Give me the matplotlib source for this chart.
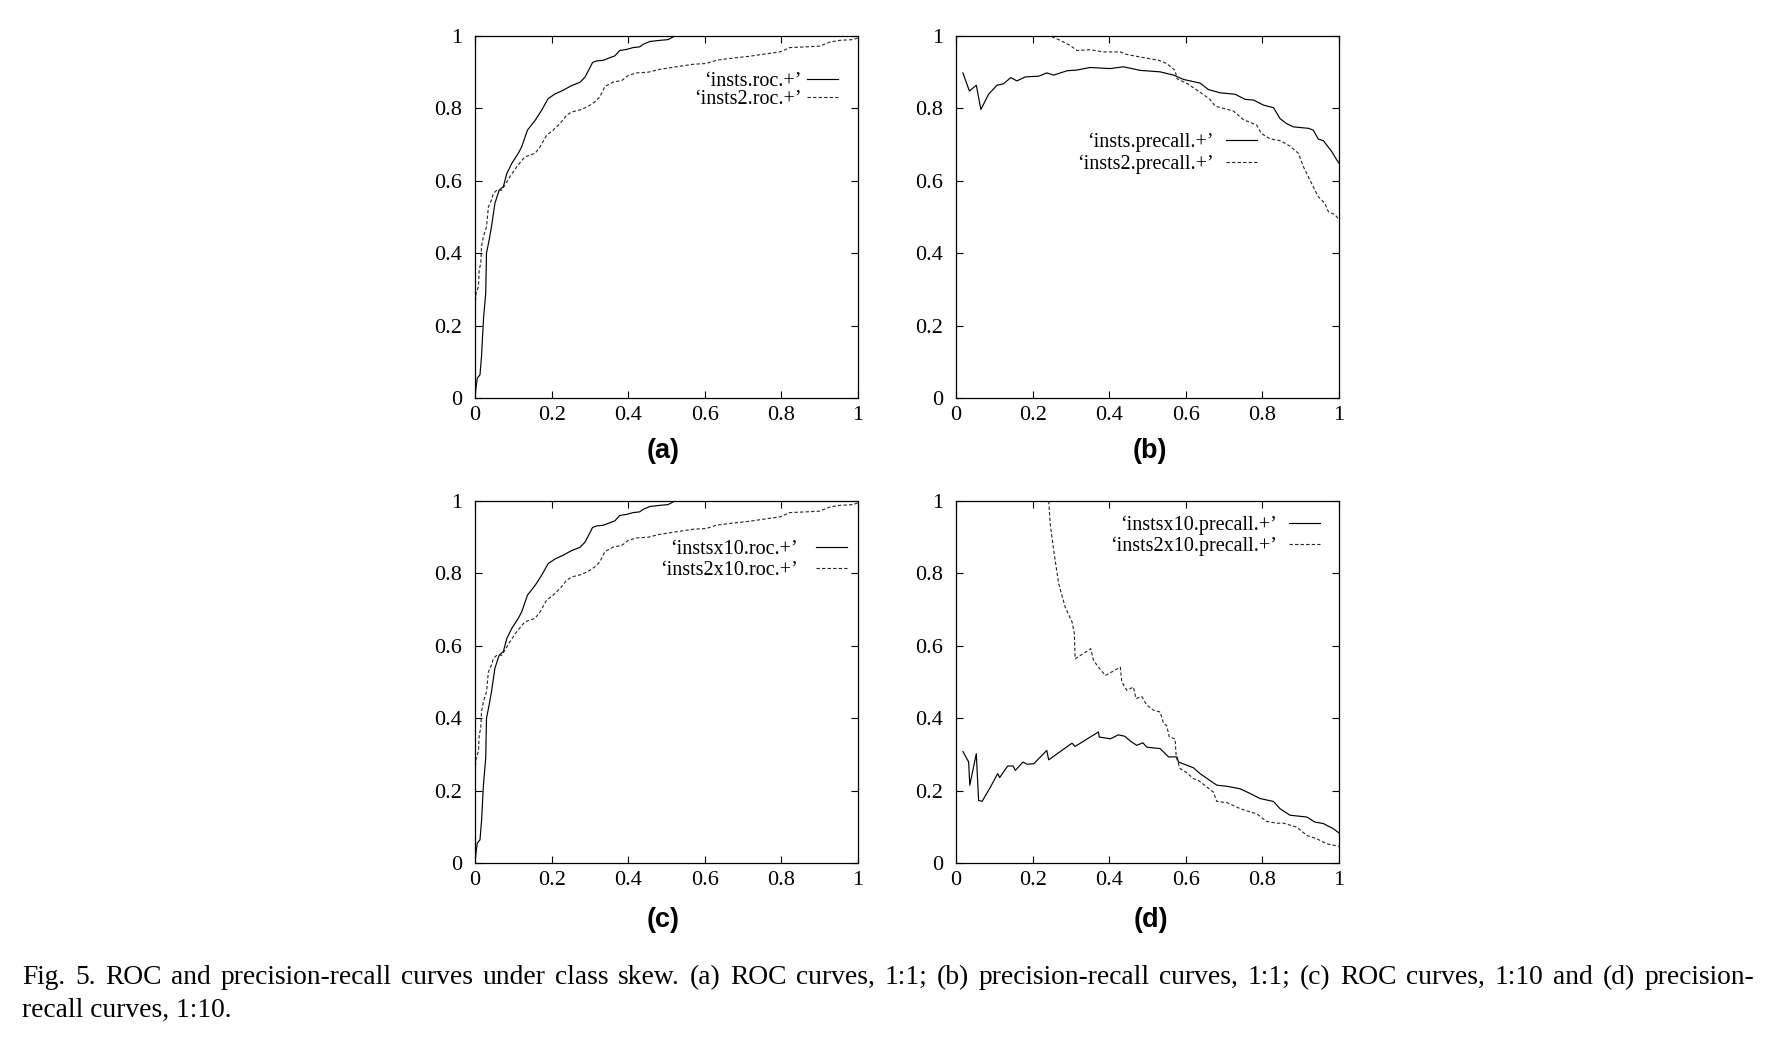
import matplotlib
matplotlib.use("Agg")
import matplotlib.pyplot as plt

# --- data ---
# (a)/(c) ROC curves (ROC is unchanged by class skew, so both panels show the same curves)
roc1_fpr = [0, 0.003, 0.006, 0.013, 0.017, 0.022, 0.028, 0.030, 0.037, 0.043, 0.052, 0.063, 0.074,
            0.083, 0.096, 0.113, 0.122, 0.137, 0.157, 0.174, 0.191, 0.209, 0.23, 0.252, 0.274, 0.287,
            0.296, 0.307, 0.317, 0.335, 0.352, 0.365, 0.378, 0.396, 0.413, 0.43, 0.439, 0.457, 0.483,
            0.504, 0.522, 1.0]
roc1_tpr = [0, 0.032, 0.055, 0.064, 0.115, 0.216, 0.29, 0.40, 0.437, 0.473, 0.538, 0.574, 0.584,
            0.62, 0.648, 0.676, 0.694, 0.74, 0.767, 0.795, 0.827, 0.84, 0.85, 0.863, 0.872, 0.886,
            0.904, 0.927, 0.931, 0.933, 0.94, 0.945, 0.96, 0.963, 0.968, 0.97, 0.977, 0.985, 0.988,
            0.99, 1.0, 1.0]
roc2_fpr = [0, 0.003, 0.009, 0.011, 0.015, 0.017, 0.022, 0.03, 0.035, 0.043, 0.048, 0.057, 0.07,
            0.078, 0.091, 0.109, 0.13, 0.157, 0.17, 0.187, 0.204, 0.222, 0.239, 0.252, 0.278, 0.296,
            0.313, 0.326, 0.339, 0.361, 0.383, 0.4, 0.422, 0.452, 0.483, 0.526, 0.57, 0.604, 0.63,
            0.665, 0.717, 0.761, 0.796, 0.822, 0.865, 0.9, 0.926, 0.952, 0.987, 1.0]
roc2_tpr = [0.253, 0.29, 0.308, 0.354, 0.372, 0.418, 0.446, 0.473, 0.528, 0.547, 0.565, 0.574, 0.574,
            0.588, 0.611, 0.639, 0.666, 0.676, 0.694, 0.726, 0.74, 0.758, 0.781, 0.79, 0.797, 0.806,
            0.818, 0.832, 0.86, 0.873, 0.877, 0.891, 0.898, 0.9, 0.908, 0.915, 0.922, 0.924, 0.933,
            0.938, 0.944, 0.951, 0.956, 0.968, 0.97, 0.972, 0.983, 0.988, 0.99, 0.995]

# (b) precision-recall, 1:1
pr1_rec = [0.018, 0.035, 0.053, 0.065, 0.085, 0.107, 0.124, 0.143, 0.159, 0.181, 0.216, 0.237, 0.255,
           0.29, 0.316, 0.35, 0.403, 0.437, 0.481, 0.533, 0.568, 0.594, 0.637, 0.659, 0.69, 0.729,
           0.755, 0.777, 0.803, 0.829, 0.846, 0.863, 0.881, 0.92, 0.933, 0.946, 0.959, 0.981, 0.994, 1.0]
pr1_prec = [0.898, 0.848, 0.864, 0.797, 0.839, 0.864, 0.868, 0.885, 0.876, 0.887, 0.889, 0.898, 0.892,
            0.904, 0.906, 0.913, 0.91, 0.915, 0.905, 0.901, 0.892, 0.88, 0.87, 0.852, 0.843, 0.839,
            0.825, 0.823, 0.809, 0.802, 0.772, 0.758, 0.749, 0.745, 0.74, 0.715, 0.711, 0.681, 0.658, 0.649]
pr2_rec = [0.018, 0.246, 0.272, 0.298, 0.316, 0.35, 0.385, 0.429, 0.446, 0.481, 0.529, 0.55, 0.572,
           0.577, 0.603, 0.637, 0.663, 0.677, 0.724, 0.75, 0.785, 0.797, 0.82, 0.846, 0.872, 0.894,
           0.907, 0.924, 0.946, 0.963, 0.972, 0.99, 1.0]
pr2_prec = [1.0, 1.0, 0.988, 0.974, 0.96, 0.962, 0.956, 0.956, 0.949, 0.942, 0.933, 0.924, 0.905,
            0.882, 0.869, 0.845, 0.825, 0.806, 0.793, 0.769, 0.754, 0.731, 0.716, 0.711, 0.696, 0.676,
            0.639, 0.602, 0.556, 0.538, 0.515, 0.506, 0.492]

# (d) precision-recall, 1:10
pr1x10_rec = [0.018, 0.033, 0.036, 0.053, 0.059, 0.068, 0.09, 0.109, 0.114, 0.135, 0.149, 0.155, 0.175,
              0.185, 0.203, 0.237, 0.242, 0.303, 0.311, 0.372, 0.374, 0.403, 0.424, 0.441, 0.455, 0.472,
              0.488, 0.498, 0.533, 0.555, 0.577, 0.581, 0.62, 0.637, 0.663, 0.681, 0.707, 0.742, 0.768,
              0.794, 0.829, 0.846, 0.872, 0.916, 0.937, 0.959, 0.985, 1.0]
pr1x10_prec = [0.308, 0.279, 0.215, 0.302, 0.173, 0.17, 0.21, 0.247, 0.236, 0.268, 0.268, 0.256, 0.279,
               0.273, 0.274, 0.311, 0.285, 0.331, 0.322, 0.362, 0.348, 0.343, 0.354, 0.35, 0.337, 0.325,
               0.332, 0.32, 0.316, 0.293, 0.293, 0.279, 0.263, 0.247, 0.228, 0.215, 0.212, 0.205, 0.192,
               0.178, 0.17, 0.15, 0.132, 0.127, 0.113, 0.109, 0.095, 0.083]
pr2x10_rec = [0.242, 0.246, 0.255, 0.268, 0.285, 0.303, 0.309, 0.311, 0.352, 0.359, 0.372, 0.39, 0.429,
              0.433, 0.446, 0.463, 0.47, 0.485, 0.498, 0.516, 0.533, 0.542, 0.55, 0.557, 0.572, 0.575,
              0.585, 0.603, 0.62, 0.633, 0.655, 0.672, 0.681, 0.707, 0.742, 0.768, 0.785, 0.811, 0.837,
              0.855, 0.89, 0.916, 0.942, 0.968, 1.0]
pr2x10_prec = [1.0, 0.937, 0.864, 0.772, 0.707, 0.666, 0.634, 0.564, 0.592, 0.56, 0.541, 0.518, 0.541,
               0.5, 0.477, 0.486, 0.454, 0.46, 0.436, 0.422, 0.417, 0.385, 0.38, 0.348, 0.343, 0.293,
               0.261, 0.249, 0.233, 0.228, 0.21, 0.196, 0.17, 0.167, 0.15, 0.141, 0.136, 0.115, 0.11,
               0.11, 0.099, 0.076, 0.067, 0.053, 0.046]

ticks = [0, 0.2, 0.4, 0.6, 0.8, 1]
tick_labels = ["0", "0.2", "0.4", "0.6", "0.8", "1"]

caption_1 = ("Fig. 5.  ROC and precision-recall curves under class skew. (a) ROC curves, 1:1; "
             "(b) precision-recall curves, 1:1; (c) ROC curves, 1:10 and (d) precision-")
caption_2 = "recall curves, 1:10."

W, H = 1774, 1038
SERIF = "Liberation Serif"
DASH = (0, (3, 2))

fig = plt.figure(figsize=(W / 100, H / 100), dpi=100)
fig.patch.set_facecolor("white")


def make_axes(left_px, top_px):
    ax = fig.add_axes([left_px / W, 1 - (top_px + 362) / H, 383 / W, 362 / H])
    ax.set_xlim(0, 1)
    ax.set_ylim(0, 1)
    ax.set_xticks(ticks)
    ax.set_yticks(ticks)
    ax.set_xticklabels(tick_labels, fontfamily=SERIF, fontsize=16)
    ax.set_yticklabels(tick_labels, fontfamily=SERIF, fontsize=16)
    ax.tick_params(direction="in", top=True, right=True, length=5, width=0.8, pad=6)
    ax.tick_params(axis="y", pad=9)
    for s in ax.spines.values():
        s.set_linewidth(0.9)
    return ax


def draw(ax, x1, y1, lab1, x2, y2, lab2, anchor, spacing, textpad):
    ax.plot(x1, y1, color="black", lw=0.85, label=lab1)
    ax.plot(x2, y2, color="#222222", lw=0.8, linestyle=DASH, label=lab2)
    ax.legend(loc="upper right", bbox_to_anchor=anchor, frameon=False, markerfirst=False,
              prop={"family": SERIF, "size": 14.5}, handlelength=1.55, handletextpad=textpad,
              labelspacing=spacing, borderpad=0, borderaxespad=0)


ax_a = make_axes(475, 36)
draw(ax_a, roc1_fpr, roc1_tpr, "‘insts.roc.+’", roc2_fpr, roc2_tpr, "‘insts2.roc.+’",
     (0.948, 0.9), -0.08, 0.25)

ax_b = make_axes(956, 36)
draw(ax_b, pr1_rec, pr1_prec, "‘insts.precall.+’", pr2_rec, pr2_prec, "‘insts2.precall.+’",
     (0.787, 0.733), 0.12, 0.6)

ax_c = make_axes(475, 501)
draw(ax_c, roc1_fpr, roc1_tpr, "‘instsx10.roc.+’", roc2_fpr, roc2_tpr, "‘insts2x10.roc.+’",
     (0.971, 0.893), 0.1, 0.9)

ax_d = make_axes(956, 501)
draw(ax_d, pr1x10_rec, pr1x10_prec, "‘instsx10.precall.+’", pr2x10_rec, pr2x10_prec,
     "‘insts2x10.precall.+’", (0.951, 0.961), 0.12, 0.6)

# panel labels
for lbl, x, y in [("(a)", 663, 451), ("(b)", 1150, 451), ("(c)", 663, 920), ("(d)", 1151, 920)]:
    fig.text(x / W, 1 - y / H, lbl, ha="center", va="center", fontfamily="Liberation Sans",
             fontweight="bold", fontsize=19.5)

# caption: first line justified between the margins like the typeset page
cap_kw = dict(fontfamily=SERIF, fontsize=19.8, va="baseline")
renderer = fig.canvas.get_renderer()
words = caption_1.split()
widths = []
for w in words:
    t = fig.text(0, 0, w, **cap_kw)
    widths.append(t.get_window_extent(renderer).width)
    t.remove()
x0, x1 = 22, 1754
gap = (x1 - x0 - sum(widths)) / (len(words) - 1)
x = x0
for w, wd in zip(words, widths):
    fig.text(x / W, 1 - 984 / H, w, **cap_kw)
    x += wd + gap
fig.text(x0 / W, 1 - 1017 / H, caption_2, **cap_kw)

fig.savefig("out.png", dpi=100, facecolor="white")
